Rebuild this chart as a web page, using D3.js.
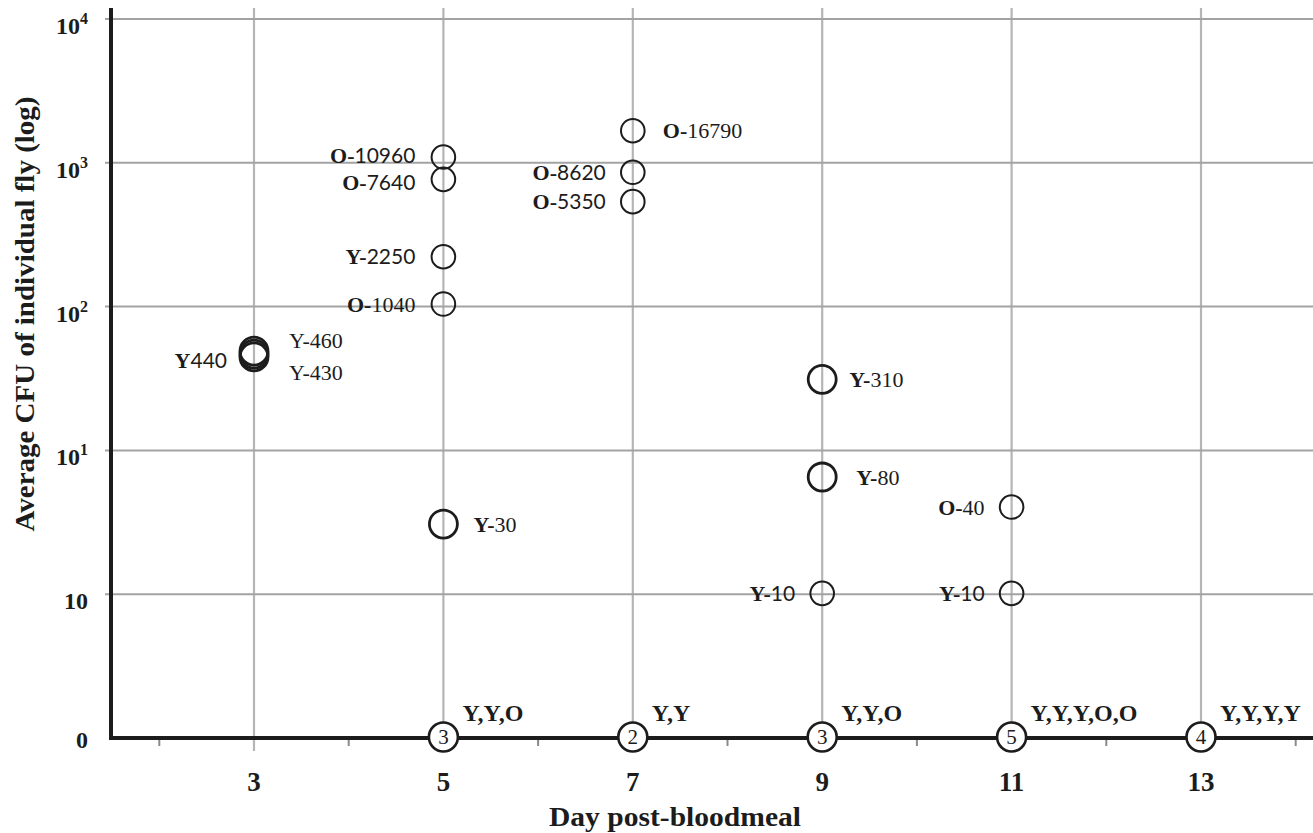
<!DOCTYPE html>
<html>
<head>
<meta charset="utf-8">
<script src="https://cdn.jsdelivr.net/npm/d3@7"></script>
<style>
  html, body { margin: 0; padding: 0; background: #fff; }
  svg { display: block; }
</style>
</head>
<body>
<div id="chart"></div>
<script>
// ---- data ----
const xTickDays = [3, 5, 7, 9, 11, 13];
const minorTickDays = [2, 4, 6, 8, 10, 12, 14];
const yTickLevels = [0, 1, 2, 3, 4, 5];
const yTickBase = ["0", "10", "10", "10", "10", "10"];
const yTickExp = ["", "", "1", "2", "3", "4"];

// individual flies with CFU > 0 (level in axis units: 0,10,10^1..10^4 equally spaced)
const pointDays   = [3, 3, 3, 5, 5, 5, 5, 5, 7, 7, 7, 9, 9, 9, 11, 11];
const pointLevels = [2.69, 2.67, 2.65, 4.04, 3.885, 3.347, 3.018, 1.488, 4.223, 3.934, 3.73, 2.494, 1.815, 1.006, 1.606, 1.006];
const pointGroups = ["Y", "Y", "Y", "O", "O", "Y", "O", "Y", "O", "O", "O", "Y", "Y", "Y", "O", "Y"];
const pointCFU    = ["460", "440", "430", "10960", "7640", "2250", "1040", "30", "16790", "8620", "5350", "310", "80", "10", "40", "10"];

// flies with zero CFU
const zeroDays   = [5, 7, 9, 11, 13];
const zeroCounts = [3, 2, 3, 5, 4];
const zeroGroups = ["Y,Y,O", "Y,Y", "Y,Y,O", "Y,Y,Y,O,O", "Y,Y,Y,Y"];

const xTitle = "Day post-bloodmeal";
const yTitle = "Average CFU of individual fly (log)";

// ---- layout / style (separate from data) ----
const labelSide = ["R", "L", "R", "L", "L", "L", "L", "R", "R", "L", "L", "R", "R", "L", "L", "L"];
const labelDy   = [-11, 6, 15, -2, 3, 0, 0, 0, 0, 0, 0, 0, 0, 0, 0, 0];
const labelGap  = [35, 27, 35, 28, 28, 28, 28, 30, 30, 27, 27, 27, 34, 27, 27, 27];
const bigPoint  = [1, 1, 1, 0, 0, 0, 0, 1, 0, 0, 0, 1, 1, 0, 0, 0];
const sansNum   = [0, 1, 0, 1, 1, 1, 0, 0, 0, 1, 1, 0, 0, 1, 0, 1];

const W = 1313, H = 833;
const SERIF = "'Liberation Serif', 'Times New Roman', serif";
const SANS = "Lato, 'Open Sans', sans-serif";
const INK = "#1c1c1c";

const x = d3.scaleLinear().domain([3, 13]).range([254, 1201]);
const y = d3.scaleLinear().domain([0, 5]).range([738, 19]);
const axisLeft = 111, axisRight = 1313, plotTop = 8;

const svg = d3.select("#chart").append("svg")
  .attr("width", W).attr("height", H);

// vertical gridlines at odd days
svg.append("g").selectAll("line").data(xTickDays).join("line")
  .attr("x1", d => x(d)).attr("x2", d => x(d))
  .attr("y1", plotTop).attr("y2", y(0) + 13)
  .attr("stroke", "#b5b5b5").attr("stroke-width", 2.2);

// horizontal gridlines
svg.append("g").selectAll("line").data(yTickLevels.filter(d => d > 0)).join("line")
  .attr("x1", axisLeft - 6).attr("x2", axisRight)
  .attr("y1", d => y(d)).attr("y2", d => y(d))
  .attr("stroke", "#a3a3a3").attr("stroke-width", 2);

// minor ticks at even days
svg.append("g").selectAll("line").data(minorTickDays).join("line")
  .attr("x1", d => x(d)).attr("x2", d => x(d))
  .attr("y1", y(0)).attr("y2", y(0) + 8)
  .attr("stroke", "#8a8a8a").attr("stroke-width", 2);

// axes lines
svg.append("line")
  .attr("x1", axisLeft).attr("x2", axisRight)
  .attr("y1", y(0)).attr("y2", y(0))
  .attr("stroke", INK).attr("stroke-width", 4);
svg.append("line")
  .attr("x1", axisLeft).attr("x2", axisLeft)
  .attr("y1", plotTop).attr("y2", y(0) + 2)
  .attr("stroke", INK).attr("stroke-width", 4);

// y tick labels
const yt = svg.append("g").selectAll("text").data(yTickLevels).join("text")
  .attr("x", 88)
  .attr("y", d => y(d) + (d === 0 ? 10 : 15))
  .attr("text-anchor", "end")
  .attr("font-family", SERIF).attr("font-weight", "bold")
  .attr("font-size", 24).attr("fill", INK);
yt.append("tspan").text((d, i) => yTickBase[i]);
yt.append("tspan").attr("font-size", 16).attr("dy", -10)
  .text((d, i) => yTickExp[i]);

// x tick labels
svg.append("g").selectAll("text").data(xTickDays).join("text")
  .attr("x", d => x(d)).attr("y", 791)
  .attr("text-anchor", "middle")
  .attr("font-family", SERIF).attr("font-weight", "bold")
  .attr("font-size", 27).attr("fill", INK)
  .text(d => d);

// axis titles
svg.append("text")
  .attr("x", 675).attr("y", 826)
  .attr("text-anchor", "middle")
  .attr("font-family", SERIF).attr("font-weight", "bold")
  .attr("font-size", 27).attr("fill", INK)
  .attr("textLength", 252).attr("lengthAdjust", "spacingAndGlyphs")
  .text(xTitle);
svg.append("text")
  .attr("transform", "translate(34,314) rotate(-90)")
  .attr("text-anchor", "middle")
  .attr("font-family", SERIF).attr("font-weight", "bold")
  .attr("font-size", 27).attr("fill", INK)
  .attr("textLength", 435).attr("lengthAdjust", "spacingAndGlyphs")
  .text(yTitle);

// data points
const pts = pointDays.map((d, i) => ({ i, day: d, level: pointLevels[i] }));
svg.append("g").selectAll("circle").data(pts).join("circle")
  .attr("cx", d => x(d.day)).attr("cy", d => y(d.level))
  .attr("r", d => bigPoint[d.i] ? 14 : 11.8)
  .attr("fill", "none").attr("stroke", INK)
  .attr("stroke-width", d => bigPoint[d.i] ? 2.8 : 2);

// point labels
const lab = svg.append("g").selectAll("text").data(pts).join("text")
  .attr("x", d => x(d.day) + (labelSide[d.i] === "R" ? labelGap[d.i] : -labelGap[d.i]))
  .attr("y", d => y(d.level) + labelDy[d.i])
  .attr("dy", "0.35em")
  .attr("text-anchor", d => labelSide[d.i] === "R" ? "start" : "end")
  .attr("font-size", 22).attr("fill", INK);
lab.append("tspan")
  .attr("font-family", SERIF)
  .attr("font-weight", d => (d.i === 0 || d.i === 2) ? "normal" : "bold")
  .text(d => pointGroups[d.i] + (d.i === 1 ? "" : "-"));
lab.append("tspan")
  .attr("font-family", d => sansNum[d.i] ? SANS : SERIF)
  .attr("font-size", d => sansNum[d.i] ? 21 : 22)
  .text(d => pointCFU[d.i]);

// zero-CFU markers
const zeros = zeroDays.map((d, i) => ({ i, day: d }));
const zg = svg.append("g").selectAll("g").data(zeros).join("g");
zg.append("circle")
  .attr("cx", d => x(d.day)).attr("cy", y(0) - 1)
  .attr("r", 14.5)
  .attr("fill", "#fff").attr("stroke", INK).attr("stroke-width", 2.6);
zg.append("text")
  .attr("x", d => x(d.day)).attr("y", y(0) - 1).attr("dy", "0.35em")
  .attr("text-anchor", "middle")
  .attr("font-family", SERIF).attr("font-size", 21).attr("fill", INK)
  .text(d => zeroCounts[d.i]);
zg.append("text")
  .attr("x", d => x(d.day) + 19).attr("y", 721)
  .attr("font-family", SERIF).attr("font-weight", "bold")
  .attr("font-size", 24).attr("fill", INK)
  .text(d => zeroGroups[d.i]);
</script>
</body>
</html>
